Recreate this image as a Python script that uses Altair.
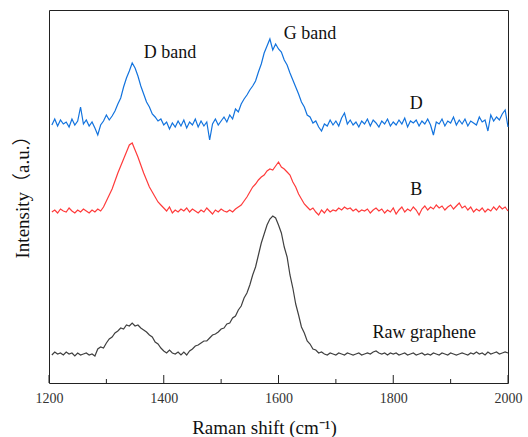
import altair as alt
import pandas as pd

# Raman shift sampling positions (cm^-1)
shift = list(range(1205, 2001, 5))

# Sample D (blue) (arbitrary intensity units incl. vertical offset)
sample_d = [
    258, 264, 257, 263, 259, 261, 256, 264, 258, 262, 276, 259, 263, 257, 261, 255, 248, 258, 262,
    268, 263, 267, 272, 279, 285, 296, 305, 312, 320, 315, 307, 297, 289, 281, 276, 269, 266, 262, 264,
    258, 261, 254, 260, 256, 262, 257, 263, 255, 261, 258, 264, 256, 262, 257, 261, 243, 259, 264, 258,
    262, 266, 261, 268, 264, 274, 271, 279, 284, 288, 293, 297, 302, 311, 319, 330, 337, 344, 333, 339,
    334, 331, 323, 318, 310, 303, 296, 289, 281, 276, 268, 266, 260, 262, 256, 252, 259, 257, 263, 258,
    262, 257, 265, 270, 259, 263, 258, 261, 256, 262, 259, 264, 257, 263, 260, 256, 262, 259, 264, 257,
    261, 258, 263, 259, 265, 256, 262, 260, 263, 257, 262, 259, 264, 258, 248, 261, 259, 264, 257, 262,
    260, 266, 258, 263, 259, 264, 257, 262, 260, 258, 266, 261, 263, 252, 268, 262, 266, 263, 269, 273,
    256,
]

# Sample B (red)
sample_b = [
    171, 173, 170, 174, 172, 171, 175, 172, 170, 173, 171, 174, 172, 170, 173, 171, 174, 172, 176,
    182, 188, 194, 202, 210, 217, 224, 231, 238, 240, 233, 226, 218, 210, 203, 196, 191, 186, 181, 178,
    175, 172, 176, 170, 173, 171, 174, 172, 175, 171, 174, 172, 170, 173, 171, 175, 172, 169, 173, 171,
    174, 172, 171, 173, 171, 174, 176, 178, 182, 186, 191, 196, 199, 203, 206, 208, 212, 214, 213, 217,
    221, 216, 214, 211, 208, 201, 196, 189, 184, 179, 176, 173, 175, 171, 168, 173, 170, 174, 171, 173,
    172, 175, 173, 176, 174, 175, 172, 174, 171, 173, 172, 174, 170, 173, 175, 172, 174, 170, 173, 171,
    175, 169, 173, 176, 171, 174, 172, 176, 173, 168, 174, 177, 173, 176, 174, 178, 175, 177, 173, 176,
    178, 174, 177, 180, 175, 177, 173, 176, 171, 174, 172, 175, 171, 174, 172, 176, 173, 177, 174, 176,
    172,
]

# Raw graphene (dark grey)
raw_graphene = [
    28, 31, 29, 30, 28, 31, 29, 30, 27, 30, 28, 29, 30, 28, 29, 27, 34, 36, 35,
    40, 44, 46, 50, 52, 55, 54, 58, 57, 60, 57, 58, 55, 53, 51, 48, 46, 41, 39, 35,
    32, 30, 33, 30, 29, 31, 28, 31, 28, 32, 34, 37, 38, 40, 42, 42, 45, 48, 49, 51,
    54, 55, 59, 60, 65, 67, 73, 77, 85, 90, 98, 108, 116, 128, 140, 149, 158, 164, 167, 165,
    158, 150, 136, 126, 108, 95, 79, 68, 56, 50, 42, 39, 34, 33, 30, 31, 29, 28, 30, 29,
    28, 30, 29, 28, 30, 29, 28, 29, 30, 28, 29, 30, 29, 31, 32, 30, 29, 30, 28, 30,
    29, 30, 28, 29, 30, 28, 29, 30, 28, 29, 30, 28, 29, 28, 30, 29, 28, 30, 29, 28,
    30, 29, 28, 29, 30, 29, 28, 30, 29, 31, 29, 30, 28, 31, 29, 30, 31, 29, 30, 31,
    30,
]

series_names = ["D", "B", "Raw graphene"]
series_colors = ["#1273de", "#ff3b3b", "#404040"]

major_ticks = [1200, 1400, 1600, 1800, 2000]
minor_ticks = [1300, 1500, 1700, 1900]

label_text = ["D band", "G band", "D", "B", "Raw graphene"]
label_x = [1411, 1655, 1840, 1840, 1854]
label_y = [330, 349, 279, 193, 50]

FONT = "Liberation Serif"

rows = []
for name, vals in zip(series_names, [sample_d, sample_b, raw_graphene]):
    for s, v in zip(shift, vals):
        rows.append({"shift": s, "intensity": v, "series": name})
df = pd.DataFrame(rows)

xscale = alt.Scale(domain=[1200, 2000], nice=False, zero=False)
yscale = alt.Scale(domain=[0, 373], nice=False, zero=False)

lines = alt.Chart(df).mark_line(strokeWidth=1.2).encode(
    x=alt.X(
        "shift:Q",
        scale=xscale,
        axis=alt.Axis(
            values=major_ticks,
            format="d",
            ticks=False,
            domain=False,
            grid=False,
            labelFont=FONT,
            labelFontSize=14,
            labelColor="#333333",
            labelPadding=8,
            labelFlush=False,
            labelOverlap=False,
            title="Raman shift (cm⁻¹)",
            titleFont=FONT,
            titleFontSize=19,
            titleFontWeight="normal",
            titleColor="#111111",
            titleX=215,
            titleY=50,
            titleAlign="center",
            titleBaseline="alphabetic",
        ),
    ),
    y=alt.Y(
        "intensity:Q",
        scale=yscale,
        axis=alt.Axis(
            labels=False,
            ticks=False,
            domain=False,
            grid=False,
            title="Intensity（a.u.）",
            titleFont=FONT + ", Noto Sans CJK SC",
            titleFontSize=19,
            titleFontWeight="normal",
            titleColor="#111111",
            titleAngle=-90,
            titleX=-27,
            titleY=182,
            titleAlign="center",
            titleBaseline="middle",
        ),
    ),
    color=alt.Color(
        "series:N",
        scale=alt.Scale(domain=series_names, range=series_colors),
        legend=None,
    ),
    detail="series:N",
)

major = alt.Chart(pd.DataFrame({"t": major_ticks})).mark_rule(
    color="#222222", strokeWidth=1
).encode(x=alt.X("t:Q", scale=xscale), y=alt.value(373), y2=alt.value(365))

minor = alt.Chart(pd.DataFrame({"t": minor_ticks})).mark_rule(
    color="#222222", strokeWidth=1
).encode(x=alt.X("t:Q", scale=xscale), y=alt.value(373), y2=alt.value(369))

labels = alt.Chart(
    pd.DataFrame({"text": label_text, "x": label_x, "y": label_y})
).mark_text(font=FONT, fontSize=18, color="#111111", baseline="middle", align="center").encode(
    x=alt.X("x:Q", scale=xscale),
    y=alt.Y("y:Q", scale=yscale),
    text="text:N",
)

chart = (
    alt.layer(lines, major, minor, labels)
    .properties(
        width=459,
        height=373,
        autosize=alt.AutoSizeParams(type="none"),
        padding={"left": 49, "top": 10, "right": 20, "bottom": 54},
        background="white",
    )
    .configure_view(stroke="#222222", strokeWidth=1)
)

chart.save("out.html", embed_options={"renderer": "svg", "actions": False})
